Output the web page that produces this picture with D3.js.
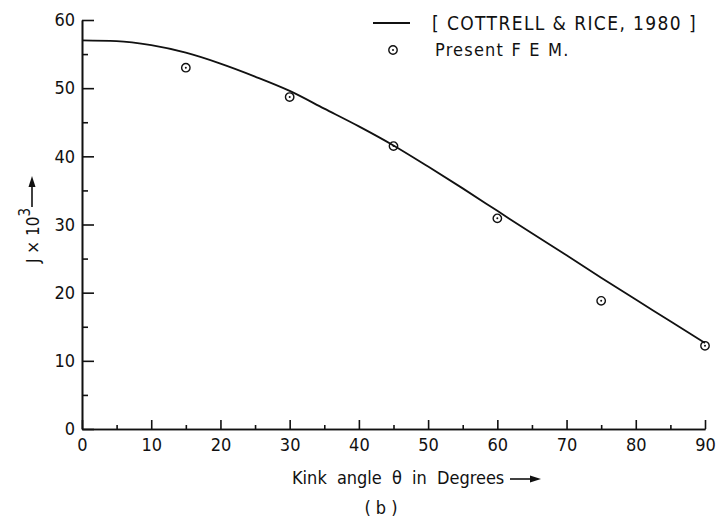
<!DOCTYPE html>
<html>
<head>
<meta charset="utf-8">
<script src="https://cdn.jsdelivr.net/npm/d3@7"></script>
<style>
  body { margin: 0; background: #fff; }
  text { font-family: "DejaVu Sans Condensed", "DejaVu Sans", sans-serif; fill: #111; }
  .axis path, .axis line { stroke: #111; stroke-width: 1.6; }
</style>
</head>
<body>
<script>
// Cottrell & Rice (1980) curve
const curveAngles = [0, 5, 10, 15, 20, 25, 30, 35, 40, 45, 50, 55, 60, 65, 70, 75, 80, 85, 90];
const curveJ = [57.0, 56.9, 56.3, 55.2, 53.6, 51.7, 49.6, 47.0, 44.4, 41.6, 38.5, 35.3, 32.0, 28.7, 25.5, 22.2, 19.0, 15.8, 12.6];

// present FEM points
const femAngles = [15, 30, 45, 60, 75, 90];
const femJ = [53.0, 48.7, 41.5, 30.9, 18.8, 12.2];

const xTicks = [0, 10, 20, 30, 40, 50, 60, 70, 80, 90];
const yTicks = [0, 10, 20, 30, 40, 50, 60];

const width = 717;
const height = 518;
const plotLeft = 82, plotRight = 705, plotTop = 20, plotBottom = 429;

const svg = d3.select('body').append('svg')
  .attr('width', width)
  .attr('height', height);

const x = d3.scaleLinear().domain([0, 90]).range([plotLeft, plotRight]);
const y = d3.scaleLinear().domain([0, 60]).range([plotBottom, plotTop]);

// minor ticks first (no labels)
svg.append('g')
  .attr('class', 'axis')
  .attr('transform', `translate(0,${plotBottom})`)
  .call(d3.axisBottom(x).tickValues(d3.range(5, 90, 10)).tickSizeInner(-4).tickSizeOuter(0).tickFormat(''));

svg.append('g')
  .attr('class', 'axis')
  .attr('transform', `translate(${plotLeft},0)`)
  .call(d3.axisLeft(y).tickValues(d3.range(5, 60, 10)).tickSizeInner(-6).tickSizeOuter(0).tickFormat(''));

// major axes
svg.append('g')
  .attr('class', 'axis')
  .attr('transform', `translate(0,${plotBottom})`)
  .call(d3.axisBottom(x).tickValues(xTicks).tickSizeInner(-9).tickSizeOuter(0).tickPadding(9));

svg.append('g')
  .attr('class', 'axis')
  .attr('transform', `translate(${plotLeft},0)`)
  .call(d3.axisLeft(y).tickValues(yTicks).tickSizeInner(-12).tickSizeOuter(0).tickPadding(7));

svg.selectAll('.axis').attr('font-family', null).attr('font-size', 18);

// curve
const line = d3.line()
  .x((d, i) => x(curveAngles[i]))
  .y((d) => y(d))
  .curve(d3.curveMonotoneX);

svg.append('path')
  .datum(curveJ)
  .attr('d', line)
  .attr('fill', 'none')
  .attr('stroke', '#111')
  .attr('stroke-width', 1.8);

// FEM markers: circle with centre dot
const pts = svg.append('g').selectAll('g')
  .data(femJ)
  .enter().append('g')
  .attr('transform', (d, i) => `translate(${x(femAngles[i])},${y(d)})`);

pts.append('circle').attr('r', 4.2).attr('fill', 'none').attr('stroke', '#111').attr('stroke-width', 1.4);
pts.append('circle').attr('r', 1).attr('fill', '#111');

// legend
svg.append('line')
  .attr('x1', 373).attr('x2', 410).attr('y1', 23).attr('y2', 23)
  .attr('stroke', '#111').attr('stroke-width', 1.8);
svg.append('text')
  .attr('x', 432).attr('y', 23).attr('dy', '0.35em')
  .attr('font-size', 19).attr('letter-spacing', 1.4)
  .text('[ COTTRELL & RICE, 1980 ]');

const lg = svg.append('g').attr('transform', 'translate(393,50)');
lg.append('circle').attr('r', 4.2).attr('fill', 'none').attr('stroke', '#111').attr('stroke-width', 1.4);
lg.append('circle').attr('r', 1).attr('fill', '#111');
svg.append('text')
  .attr('x', 435).attr('y', 50).attr('dy', '0.35em')
  .attr('font-size', 18).attr('letter-spacing', 1.2).attr('word-spacing', 1)
  .text('Present F E M.');

// x title with arrow
svg.append('text')
  .attr('x', 292).attr('y', 478).attr('dy', '0.35em')
  .attr('font-size', 18).attr('word-spacing', 5)
  .text('Kink angle θ in Degrees');
svg.append('line')
  .attr('x1', 510).attr('x2', 534).attr('y1', 479).attr('y2', 479)
  .attr('stroke', '#111').attr('stroke-width', 1.6);
svg.append('path')
  .attr('d', 'M541,479L530,475.5L530,482.5Z')
  .attr('fill', '#111');

// y title with arrow (rotated)
svg.append('text')
  .attr('transform', 'translate(33,263) rotate(-90)')
  .attr('dy', '0.35em')
  .attr('font-size', 17)
  .html('J × 10<tspan dy="-9" font-size="15">3</tspan>');
svg.append('line')
  .attr('x1', 32).attr('x2', 32).attr('y1', 207).attr('y2', 184)
  .attr('stroke', '#111').attr('stroke-width', 1.6);
svg.append('path')
  .attr('d', 'M32,176L28.5,187L35.5,187Z')
  .attr('fill', '#111');

// panel label
svg.append('text')
  .attr('x', 381).attr('y', 508).attr('dy', '0.35em')
  .attr('text-anchor', 'middle')
  .attr('font-size', 18)
  .text('( b )');
</script>
</body>
</html>
